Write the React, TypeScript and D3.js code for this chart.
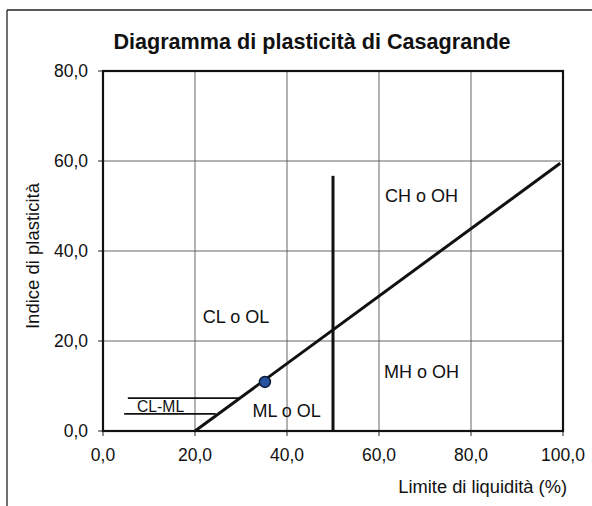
import React from "react";
import * as d3 from "d3";

const xTicks = [0, 20, 40, 60, 80, 100];
const yTicks = [0, 20, 40, 60, 80];
const aLine: [number, number][] = [[20, 0], [99.4, 59.5]];
const uLimitLine: [number, number][] = [[50, 0], [50, 56.7]];
const clmlUpper: [number, number][] = [[5.4, 7.3], [29.6, 7.3]];
const clmlLower: [number, number][] = [[4.6, 3.8], [24.5, 3.8]];
const samplePoints: [number, number][] = [[35.2, 10.9]];
const zoneLabels = ["CL o OL", "CH o OH", "MH o OH", "ML o OL", "CL-ML"];
const zoneLabelX = [21.7, 61.3, 61.1, 32.5, 7.4];
const zoneLabelY = [24, 51, 11.8, 3.2, 4.2];

const W = 592;
const H = 506;
const FONT = "'Liberation Sans', Arial, sans-serif";
const fmt = (v: number) => v.toFixed(1).replace(".", ",");

export default function App() {
  const x = d3.scaleLinear().domain([0, 100]).range([103, 563]);
  const y = d3.scaleLinear().domain([0, 80]).range([431, 71]);
  const line = d3.line<[number, number]>().x((d) => x(d[0])).y((d) => y(d[1]));

  return (
    <svg
      width={W}
      height={H}
      style={{ position: "absolute", left: 0, top: 0, background: "#fff" }}
      fontFamily={FONT}
    >
      <rect x={0} y={0} width={W} height={H} fill="#fff" />
      {/* outer frame */}
      <line x1={7} y1={10} x2={W} y2={10} stroke="#222" strokeWidth={1.3} />
      <line x1={7} y1={10} x2={7} y2={H} stroke="#222" strokeWidth={1.3} />

      <text x={312} y={49} textAnchor="middle" fontSize={21.6} fontWeight="bold" fill="#111">
        Diagramma di plasticità di Casagrande
      </text>

      {/* grid */}
      {xTicks.slice(1, -1).map((t) => (
        <line key={"gx" + t} x1={x(t)} x2={x(t)} y1={y(0)} y2={y(80)} stroke="#555" strokeWidth={0.9} />
      ))}
      {yTicks.slice(1, -1).map((t) => (
        <line key={"gy" + t} x1={x(0)} x2={x(100)} y1={y(t)} y2={y(t)} stroke="#555" strokeWidth={0.9} />
      ))}

      {/* ticks */}
      {xTicks.map((t) => (
        <g key={"xt" + t}>
          <line x1={x(t)} x2={x(t)} y1={y(0)} y2={y(0) + 5} stroke="#222" strokeWidth={1} />
          <text x={x(t)} y={461} textAnchor="middle" fontSize={17.5} fill="#111">
            {fmt(t)}
          </text>
        </g>
      ))}
      {yTicks.map((t) => (
        <g key={"yt" + t}>
          <line x1={x(0) - 5} x2={x(0)} y1={y(t)} y2={y(t)} stroke="#222" strokeWidth={1} />
          <text x={88} y={y(t)} dy="0.36em" textAnchor="end" fontSize={17.5} fill="#111">
            {fmt(t)}
          </text>
        </g>
      ))}

      {/* plot border */}
      <rect x={x(0)} y={y(80)} width={x(100) - x(0)} height={y(0) - y(80)} fill="none" stroke="#111" strokeWidth={2.2} />

      {/* lines */}
      <path d={line(aLine) || ""} fill="none" stroke="#111" strokeWidth={3} />
      <path d={line(uLimitLine) || ""} fill="none" stroke="#111" strokeWidth={3} />
      <path d={line(clmlUpper) || ""} fill="none" stroke="#111" strokeWidth={1.6} />
      <path d={line(clmlLower) || ""} fill="none" stroke="#111" strokeWidth={1.6} />

      {samplePoints.map((p, i) => (
        <circle key={"p" + i} cx={x(p[0])} cy={y(p[1])} r={5.5} fill="#2553a0" stroke="#0d1a33" strokeWidth={1.5} />
      ))}

      {zoneLabels.map((l, i) => (
        <text
          key={l}
          x={x(zoneLabelX[i])}
          y={y(zoneLabelY[i])}
          fontSize={l === "CL-ML" ? 15.7 : 18}
          fill="#111"
        >
          {l}
        </text>
      ))}

      <text x={567} y={493} textAnchor="end" fontSize={18.3} fill="#111">
        Limite di liquidità (%)
      </text>
      <text
        transform={`translate(39,256) rotate(-90)`}
        textAnchor="middle"
        fontSize={18.5}
        fill="#111"
      >
        Indice di plasticità
      </text>
    </svg>
  );
}
